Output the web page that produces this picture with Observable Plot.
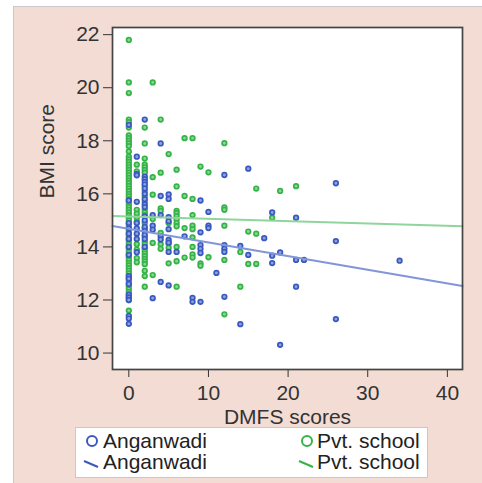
<!DOCTYPE html>
<html>
<head>
<meta charset="utf-8">
<script src="https://cdn.jsdelivr.net/npm/d3@7"></script>
<script src="https://cdn.jsdelivr.net/npm/@observablehq/plot@0.6"></script>
<style>
  html, body { margin: 0; padding: 0; background: #ffffff; }
  body { width: 482px; height: 483px; overflow: hidden; position: relative; font-family: "Liberation Sans", Arial, sans-serif; }
  #panel { position: absolute; left: 13px; top: 6px; width: 469px; height: 477px; background: #f2dcd3; border-left: 1px solid #c9c9c9; border-top: 1px solid #c9c9c9; box-sizing: border-box; }
  #chart { position: absolute; left: 13px; top: 6px; }
  #legend { position: absolute; left: 75px; top: 427px; }
</style>
</head>
<body>
<div id="panel"></div>
<div id="chart"></div>
<div id="legend"></div>
<script>
// ---- data ----
const seriesNames = ["Anganwadi", "Pvt. school"];
const seriesColors = ["#3a59be", "#35b347"];
const seriesFills = ["#8fa2e0", "#8ad697"];
const fitColors = ["#8196d8", "#90d59c"];

const xTicks = [0, 10, 20, 30, 40];
const yTicks = [10, 12, 14, 16, 18, 20, 22];

// Anganwadi: DMFS score levels and BMI values observed at each level
const anganwadiDmfs = [0, 1, 2, 3, 4, 5, 6, 7, 8, 9, 10, 11, 12, 14, 15, 17, 18, 19, 21, 22, 26, 34];
const anganwadiBmi = [
  [18.6, 15.75, 14.9, 14.7, 14.5, 14.3, 14.0, 13.7, 12.9, 12.8, 12.6, 12.2, 12.1, 12.0, 11.4, 11.3, 11.1],
  [17.4, 16.75, 16.7, 15.7, 14.9, 14.7, 14.5, 14.3, 13.8],
  [18.8, 16.65, 16.55, 16.45, 16.35, 16.2, 16.0, 15.8, 15.6, 15.5, 15.15, 15.0, 14.75, 14.6, 14.45, 14.3, 14.0],
  [15.2, 14.8, 14.65, 12.07],
  [17.9, 15.92, 15.2, 14.4, 14.28, 12.68],
  [15.98, 15.81, 15.12, 14.97, 14.67, 14.26, 14.16, 13.81, 12.55],
  [13.81],
  [14.4],
  [12.08, 11.93],
  [15.75, 14.55, 14.07, 13.93, 13.77, 11.93],
  [15.32, 14.8, 14.71],
  [13.02],
  [16.71, 14.07, 13.93, 13.81, 12.12],
  [14.04, 11.09],
  [16.95, 13.7],
  [14.33],
  [15.3, 13.67, 13.39],
  [13.79, 10.31],
  [15.1, 13.51, 12.5],
  [13.51],
  [16.4, 14.22, 11.28],
  [13.48]
];

// Pvt. school
const pvtDmfs = [0, 1, 2, 3, 4, 5, 6, 7, 8, 9, 10, 12, 14, 15, 16, 18, 19, 21];
const pvtBmi = [
  [21.8, 20.2, 19.8, 18.8, 18.7, 18.5, 18.2, 18.1, 18.0, 17.9, 17.8, 17.6, 17.4, 17.3, 17.2, 17.1, 17.0, 16.9, 16.8, 16.7,
   16.6, 16.5, 16.4, 16.3, 16.2, 16.1, 16.0, 15.9, 15.8, 15.7, 15.6, 15.5, 15.4, 15.3, 15.2, 15.1, 15.0, 14.9, 14.8, 14.7,
   14.6, 14.5, 14.4, 14.3, 14.2, 14.1, 14.0, 13.9, 13.8, 13.7, 13.6, 13.5, 13.4, 13.3, 13.2, 13.1, 13.0, 12.9, 12.8, 12.7,
   12.6, 12.5, 12.4, 12.3, 12.2, 12.1, 12.0, 11.6],
  [17.1, 16.85, 15.4, 15.25, 15.1, 14.95, 14.1, 13.9, 13.58, 13.42],
  [18.5, 17.9, 17.33, 17.1, 17.0, 16.9, 16.8, 16.3, 16.1, 15.9, 15.7, 15.4, 15.3, 15.2, 14.9, 14.7, 14.4, 14.2, 14.1,
   13.95, 13.85, 13.75, 13.65, 13.55, 13.45, 13.35, 13.1, 12.9, 12.5],
  [20.2, 16.63, 15.97, 15.05, 14.15, 12.94],
  [18.8, 16.8, 15.45, 15.36, 14.53, 14.1, 13.93],
  [17.5, 14.9, 14.13, 13.97, 13.38],
  [16.91, 16.28, 15.36, 15.27, 15.16, 15.03, 14.9, 14.78, 14.0, 13.46, 12.5],
  [18.1, 15.92, 14.71, 13.6],
  [18.1, 15.81, 15.2, 14.8, 14.67, 14.36, 14.0, 13.72, 13.6],
  [17.03, 13.38, 13.29],
  [16.81, 13.61],
  [17.91, 15.49, 15.4, 14.8, 13.51, 11.46],
  [13.81, 12.5],
  [14.58, 13.36],
  [16.2, 14.5, 13.36],
  [15.1],
  [16.11],
  [16.29]
];

// Linear fits (intercept, slope) per series
const fitIntercepts = [14.68, 15.15];
const fitSlopes = [-0.0514, -0.0089];

// ---- build tables ----
function flatten(levels, values, group) {
  return levels.flatMap((d, i) => values[i].map(v => ({dmfs: d, bmi: v, group})));
}
const anganwadiPts = flatten(anganwadiDmfs, anganwadiBmi, seriesNames[0]);
const pvtPts = flatten(pvtDmfs, pvtBmi, seriesNames[1]);

const xDomain = [-2.05, 41.9];
const yDomain = [9.38, 22.27];
const fitLines = seriesNames.flatMap((g, i) =>
  xDomain.map(x => ({dmfs: x, bmi: fitIntercepts[i] + fitSlopes[i] * x, group: g})));

const font = "'Liberation Sans', Arial, sans-serif";

const chart = Plot.plot({
  width: 469,
  height: 420,
  marginLeft: 99,
  marginRight: 20,
  marginTop: 21,
  marginBottom: 57,
  style: {fontFamily: font, fontSize: "21px", color: "#333", background: "transparent", overflow: "visible"},
  x: {domain: xDomain, ticks: xTicks, tickSize: 8, tickPadding: 8, label: null},
  y: {domain: yDomain, ticks: yTicks, tickSize: 9, tickPadding: 4, label: null},
  marks: [
    Plot.frame({fill: "white", stroke: null}),
    Plot.dot(pvtPts, {x: "dmfs", y: "bmi", r: 2.3, stroke: seriesColors[1], strokeWidth: 1.7, fill: seriesFills[1]}),
    Plot.dot(anganwadiPts, {x: "dmfs", y: "bmi", r: 2.3, stroke: seriesColors[0], strokeWidth: 1.7, fill: seriesFills[0]}),
    Plot.line(fitLines.filter(d => d.group === seriesNames[1]), {x: "dmfs", y: "bmi", stroke: fitColors[1], strokeWidth: 2}),
    Plot.line(fitLines.filter(d => d.group === seriesNames[0]), {x: "dmfs", y: "bmi", stroke: fitColors[0], strokeWidth: 2}),
    Plot.frame({stroke: "#444", strokeWidth: 1.7}),
    Plot.text(["DMFS scores"], {frameAnchor: "bottom", dy: 54, fontSize: 21, fill: "#333"}),
    Plot.text(["BMI score"], {frameAnchor: "left", dx: -65, rotate: -90, fontSize: 21, fill: "#333"})
  ]
});
document.getElementById("chart").appendChild(chart);

// ---- legend ----
const lw = 353, lh = 51;
const leg = d3.select("#legend").append("svg")
  .attr("width", lw).attr("height", lh)
  .style("font-family", font).style("font-size", "21px");
leg.append("rect").attr("x", 0.5).attr("y", 0.5).attr("width", lw - 1).attr("height", lh - 1)
  .attr("fill", "white").attr("stroke", "#c8c8c8");
const cols = [{sx: 17, tx: 28}, {sx: 232, tx: 242}];
seriesNames.forEach((name, i) => {
  const c = cols[i];
  leg.append("circle").attr("cx", c.sx).attr("cy", 14).attr("r", 5)
    .attr("fill", "none").attr("stroke", seriesColors[i]).attr("stroke-width", 2);
  leg.append("text").attr("x", c.tx).attr("y", 21).attr("fill", "#222").text(name);
  leg.append("line").attr("x1", c.sx - 8).attr("y1", 34).attr("x2", c.sx + 6).attr("y2", 40)
    .attr("stroke", seriesColors[i]).attr("stroke-width", 2);
  leg.append("text").attr("x", c.tx).attr("y", 42).attr("fill", "#222").text(name);
});
</script>
</body>
</html>
